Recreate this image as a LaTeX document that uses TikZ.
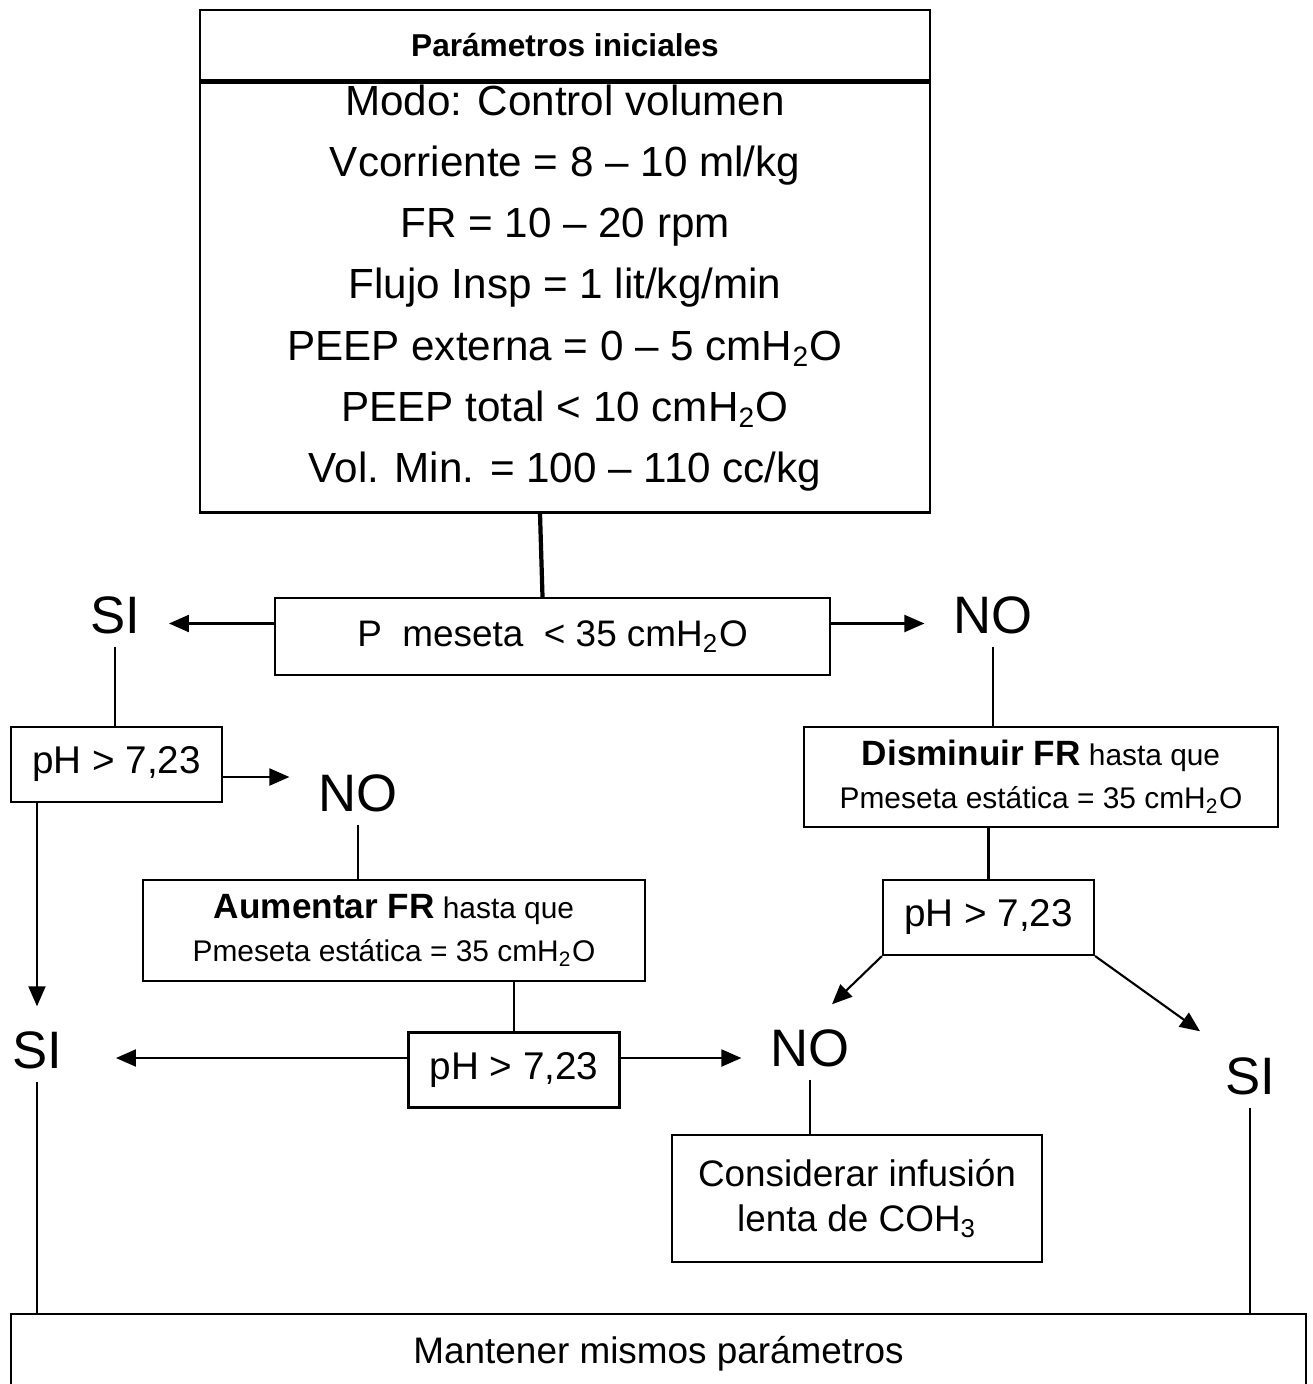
\documentclass[tikz,border=0pt]{standalone}
\usepackage{fontspec}
\setmainfont{Liberation Sans}
\usetikzlibrary{positioning, arrows.meta}

\begin{document}
\begin{tikzpicture}[
    semithick,
    box/.style={draw, inner sep=0pt, align=center},
    lbl/.style={font=\fontsize{15}{18}\selectfont, inner xsep=0.28cm, inner ysep=0.12cm},
    phbox/.style={box, minimum width=2.11cm, minimum height=0.75cm, font=\fontsize{11}{13}\selectfont},
    stepbox/.style={box, font=\fontsize{8.5}{12.2}\selectfont},
    arr/.style={-{Triangle[length=2mm, width=1.7mm]}}
  ]

  % Page the size of the reference
  \useasboundingbox (0,0) rectangle (13.12,-13.84);
  \clip (0,0) rectangle (13.12,-13.84);

  % Initial parameters
  \node[box, line width=0.7pt, minimum width=7.3cm, minimum height=0.7cm,
        font=\bfseries\fontsize{9}{11}\selectfont] (head) at (5.65,-0.45) {Parámetros iniciales};
  \node[box, line width=0.7pt, minimum width=7.3cm, minimum height=4.3cm, anchor=north] (params) at (head.south) {};
  \node[align=center, font=\fontsize{12}{17.4}\selectfont] (paramtxt) at (5.65,-2.88)
    {Modo: Control volumen\\
     Vcorriente = 8 – 10 ml/kg\\
     FR = 10 – 20 rpm\\
     Flujo Insp = 1 lit/kg/min\\
     PEEP externa = 0 – 5 cmH\textsubscript{2}O\\
     PEEP total < 10 cmH\textsubscript{2}O\\
     Vol. Min. = 100 – 110 cc/kg};

  % Plateau pressure
  \node[box, minimum width=5.55cm, minimum height=0.77cm, font=\fontsize{10.5}{12}\selectfont] (pmes)
    at (5.525,-6.365) {P\ \ meseta\ \ < 35 cmH\textsubscript{2}O};

  % SI / NO labels
  \node[lbl] (siA) at (1.15,-6.15) {SI};
  \node[lbl] (noA) at (9.93,-6.15) {NO};
  \node[lbl] (noB) at (3.58,-7.93) {NO};
  \node[lbl] (siB) at (0.37,-10.50) {SI};
  \node[lbl] (noC) at (8.10,-10.48) {NO};
  \node[lbl] (siC) at (12.50,-10.76) {SI};

  % pH checks
  \node[phbox] (ph1) at (1.165,-7.645) {pH > 7,23};
  \node[phbox] (ph2) at (5.14,-10.70) {pH > 7,23};
  \node[phbox] (ph3) at (9.885,-9.175) {pH > 7,23};

  % Actions
  \node[stepbox, minimum width=5.02cm, minimum height=1.01cm] (aum) at (3.94,-9.305)
    {{\bfseries\fontsize{10}{12.2}\selectfont Aumentar FR} hasta que\\
     Pmeseta estática = 35 cmH\textsubscript{2}O};
  \node[stepbox, minimum width=4.74cm, minimum height=1.0cm] (dis) at (10.41,-7.77)
    {{\bfseries\fontsize{10}{12.2}\selectfont Disminuir FR} hasta que\\
     Pmeseta estática = 35 cmH\textsubscript{2}O};
  \node[box, minimum width=3.70cm, minimum height=1.27cm, font=\fontsize{10.5}{13}\selectfont] (cons)
    at (8.57,-11.985) {Considerar infusión\\ lenta de COH\textsubscript{3}};
  \node[box, minimum width=12.95cm, minimum height=0.8cm, anchor=north, font=\fontsize{10.5}{12}\selectfont] (mant)
    at (6.585,-13.13) {Mantener mismos parámetros};

  % Connectors
  \draw[line width=1.2pt] ([xshift=-2.5mm]params.south) -- ([xshift=-1mm]pmes.north);
  \draw[arr] ([yshift=1.3mm]pmes.west) -- ([yshift=1.3mm]pmes.west -| siA.east);
  \draw[arr] ([yshift=1.3mm]pmes.east) -- ([yshift=1.3mm]pmes.east -| noA.west);
  \draw (siA.south) -- (siA.south |- ph1.north);
  \draw (noA.south) -- (noA.south |- dis.north);
  \draw[arr] ([yshift=-1.25mm]ph1.east) -- ([yshift=-1.25mm]ph1.east -| noB.west);
  \draw[arr, shorten >=1.2mm] (ph1.south -| siB.north) -- (siB.north);
  \draw (noB.south) -- (noB.south |- aum.north);
  \draw (ph2.north) -- (ph2.north |- aum.south);
  \draw[arr, shorten >=2.5mm] ([yshift=1.2mm]ph2.west) -- ([yshift=1.2mm]ph2.west -| siB.east);
  \draw[arr] ([yshift=1.2mm]ph2.east) -- ([yshift=1.2mm]ph2.east -| noC.west);
  \draw (ph3.north) -- (ph3.north |- dis.south);
  \draw[arr] (ph3.south west) -- ([xshift=2.2mm, yshift=1.2mm]noC.north);
  \draw[arr] (ph3.south east) -- ([xshift=-5mm, yshift=1.3mm]siC.north);
  \draw (noC.south) -- (noC.south |- cons.north);
  \draw (siB.south) -- (siB.south |- mant.north);
  \draw (siC.south) -- (siC.south |- mant.north);

\end{tikzpicture}
\end{document}
